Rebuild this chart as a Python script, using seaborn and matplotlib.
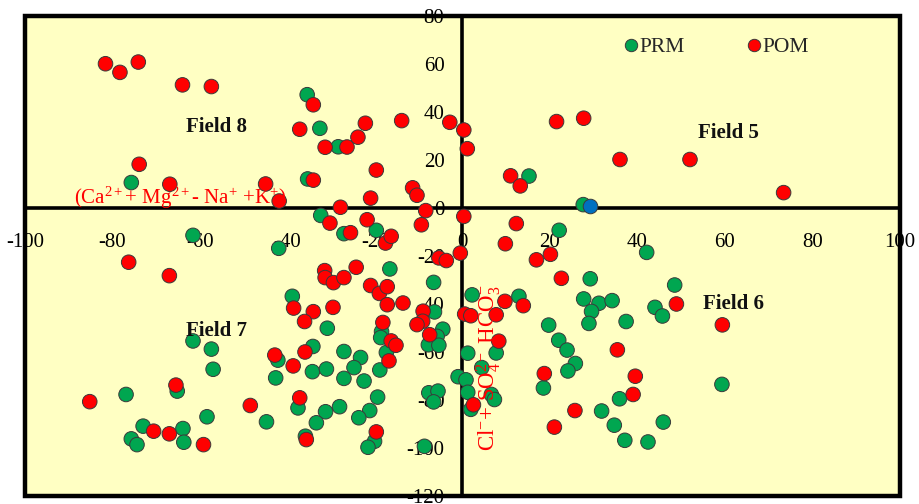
import matplotlib
matplotlib.use("Agg")
import matplotlib.pyplot as plt
from matplotlib.patches import Rectangle
import seaborn as sns
import pandas as pd

# ---- data ----
prm_x = [-35.5, -32.6, -28.4, -75.7, -35.4, -32.4, -27.1, -19.7, -61.6, -42.0,
         -16.6, -6.6, -38.9, -6.4, -4.5, -5.8, -30.9, -18.5, -18.7, -7.8,
         -5.4, -61.6, -57.4, -57.0, -34.2, -42.2, -42.7, -34.3, -31.1, -27.1,
         -23.3, -24.8, -17.4, -18.9, -27.1, -22.5, -1.0, -76.9, -65.2, -19.4,
         -7.7, -5.6, -6.6, -37.6, -31.3, -28.1, -21.2, -23.7, -33.4, -44.8,
         -58.4, -73.0, -75.7, -74.4, -63.9, -63.7, -35.9, -20.1, -21.6, -8.7,
         15.2, 27.6, 22.1, 42.1, 29.2, 48.5, 2.2, 12.9, 27.7, 31.2,
         34.2, 29.5, 44.0, 45.7, 28.9, 37.4, 19.7, 22.0, 23.9, 25.8,
         24.1, 1.2, 7.7, 4.4, 0.8, 18.5, 59.3, 1.2, 6.6, 7.3,
         35.9, 1.9, 31.8, 34.7, 45.9, 37.1, 42.4]
prm_y = [47.2, 33.2, 25.5, 10.6, 12.1, -3.1, -10.7, -9.3, -11.4, -16.8,
         -25.4, -31.0, -36.8, -43.3, -50.5, -53.5, -50.1, -51.5, -54.0, -57.0,
         -57.2, -55.4, -58.8, -67.2, -57.7, -63.4, -70.8, -68.2, -67.1, -59.8,
         -62.3, -66.5, -60.2, -67.5, -71.0, -72.1, -70.3, -77.7, -76.3, -78.8,
         -77.0, -76.3, -80.8, -83.3, -84.9, -82.8, -84.4, -87.4, -89.5, -89.1,
         -87.0, -90.9, -96.2, -98.6, -91.9, -97.6, -95.1, -97.2, -99.7, -99.3,
         13.3, 1.4, -9.3, -18.5, -29.5, -32.1, -36.2, -36.8, -37.9, -39.7,
         -38.6, -43.1, -41.4, -45.0, -48.1, -47.3, -48.8, -55.1, -59.2, -64.8,
         -67.9, -60.5, -60.4, -66.5, -71.6, -75.0, -73.5, -76.8, -77.7, -79.8,
         -79.5, -83.9, -84.6, -90.5, -89.2, -96.8, -97.5]

pom_x = [-81.6, -78.3, -74.1, -64.0, -57.4, -34.1, -37.2, -31.4, -26.4, -23.9,
         -22.2, -13.9, -2.9, 0.3, 1.1, -19.7, -73.9, -66.9, -45.0, -41.9,
         -34.1, -11.4, -10.4, -21.0, -27.9, -8.4, -21.8, -30.3, -25.6, -9.4,
         -17.6, -16.3, 0.3, -0.5, -5.4, -3.7,
         21.5, 27.7, 11.0, 13.2, 36.0, 52.0, 73.4, 12.3, 9.8, 20.1,
         16.9, 22.6, 9.7, 13.9, 48.9, 59.4, 0.5, 1.9, 7.7, 8.3,
         35.4, 18.7, 39.5, 39.0, 2.5, 25.7, 21.0,
         -76.3, -67.0, -31.5, -31.4, -29.5, -27.1, -24.3, -21.0, -19.0, -17.2,
         -17.2, -13.6, -9.0, -9.1, -10.4, -7.5, -18.2, -16.3, -15.2, -16.8,
         -38.6, -34.1, -36.1, -29.6, -42.9, -36.0, -38.7, -65.5, -85.2, -48.5,
         -37.2, -70.6, -67.0, -59.2, -35.7, -19.7]
pom_y = [60.1, 56.5, 60.8, 51.3, 50.6, 43.0, 32.8, 25.3, 25.4, 29.5,
         35.3, 36.4, 35.7, 32.5, 24.7, 15.8, 18.2, 9.9, 10.0, 2.9,
         11.6, 8.4, 5.3, 4.1, 0.3, -1.1, -4.9, -6.3, -10.3, -7.0,
         -14.6, -11.8, -3.5, -18.8, -20.8, -21.9,
         36.0, 37.4, 13.4, 9.2, 20.2, 20.2, 6.4, -6.5, -14.9, -19.3,
         -21.6, -29.3, -38.9, -40.7, -40.0, -48.7, -44.2, -44.9, -44.5, -55.5,
         -59.1, -69.0, -70.1, -77.7, -82.0, -84.4, -91.3,
         -22.6, -28.2, -26.1, -29.0, -31.1, -29.0, -24.7, -32.3, -35.6, -32.8,
         -40.3, -39.6, -43.0, -47.2, -48.6, -52.8, -47.7, -55.4, -57.2, -63.7,
         -41.7, -43.2, -47.3, -41.4, -61.3, -60.0, -65.8, -73.8, -80.7, -82.3,
         -79.1, -93.0, -94.1, -98.6, -96.5, -93.3]

extra_x = [29.1]
extra_y = [0.8]

groups = ["PRM", "POM"]
x_ticks = list(range(-100, 101, 20))
y_ticks = list(range(-120, 81, 20))
x_label = r"(Ca$^{2+}$+ Mg$^{2+}$- Na$^{+}$ +K$^{+}$)"
y_label = r"Cl$^{-}$+ SO$^{2-}_{4}$ HCO$^{-}_{3}$"
field_names = ["Field 8", "Field 5", "Field 7", "Field 6"]
field_x = [-56.2, 60.8, -56.2, 61.9]
field_y = [33.8, 31.2, -51.2, -40.0]

df = pd.DataFrame({
    "x": prm_x + pom_x,
    "y": prm_y + pom_y,
    "group": [groups[0]] * len(prm_x) + [groups[1]] * len(pom_x),
})
df_extra = pd.DataFrame({"x": extra_x, "y": extra_y})

# ---- style ----
sns.set_style("white")
plt.rcParams["font.family"] = ["Liberation Serif", "DejaVu Serif"]
plt.rcParams["mathtext.fontset"] = "custom"
plt.rcParams["mathtext.rm"] = "Liberation Serif"
plt.rcParams["mathtext.it"] = "Liberation Serif"
plt.rcParams["axes.unicode_minus"] = False

fig = plt.figure(figsize=(9.19, 5.04), dpi=100)
ax = fig.add_axes([0.0272, 0.0159, 0.9521, 0.9524])
ax.set_facecolor("#FFFFC3")

palette = {"PRM": "#00A650", "POM": "#FF0000"}
sns.scatterplot(data=df, x="x", y="y", hue="group", palette=palette,
                hue_order=groups, s=110, edgecolor="#3a3a3a", linewidth=0.7,
                ax=ax, zorder=3)
sns.scatterplot(data=df_extra, x="x", y="y", color="#0070C0", s=110,
                edgecolor="#3a3a3a", linewidth=0.7, ax=ax, zorder=3,
                legend=False)

ax.set_xlim(-100, 100)
ax.set_ylim(-120, 80)
ax.set_xticks(x_ticks)
ax.set_yticks(y_ticks)
ax.set_xlabel("")
ax.set_ylabel("")

for side in ["left", "bottom"]:
    ax.spines[side].set_position(("data", 0))
    ax.spines[side].set_linewidth(2.6)
    ax.spines[side].set_color("black")
    ax.spines[side].set_zorder(2)
for side in ["top", "right"]:
    ax.spines[side].set_visible(False)
ax.add_patch(Rectangle((0, 0), 1, 1, transform=ax.transAxes, fill=False,
                       lw=3.2, ec="black", clip_on=False, zorder=5))

ax.set_axisbelow(True)
ax.tick_params(axis="x", direction="out", length=5, width=2.2, pad=13,
               labelsize=15, colors="black")
ax.tick_params(axis="y", direction="out", length=5, width=2.2, pad=8,
               labelsize=15, colors="black")

ax.text(-64.5, 4.2, x_label, color="red", fontsize=15, ha="center",
        va="center", zorder=4)
ax.text(6.0, -66.6, y_label, color="red", fontsize=16.5, ha="center",
        va="center", rotation=90, zorder=4)

for name, fx, fy in zip(field_names, field_x, field_y):
    ax.text(fx, fy, name, fontsize=15, fontweight="bold", ha="center",
            va="center", color="#111111", zorder=4)

sns.move_legend(ax, "center", bbox_to_anchor=(0.789, 0.935), ncol=2,
                frameon=False, title=None, fontsize=15.5, handletextpad=0.0,
                handlelength=0.8, columnspacing=2.8, markerscale=0.85)

fig.savefig("out.png", dpi=100, facecolor="white")
